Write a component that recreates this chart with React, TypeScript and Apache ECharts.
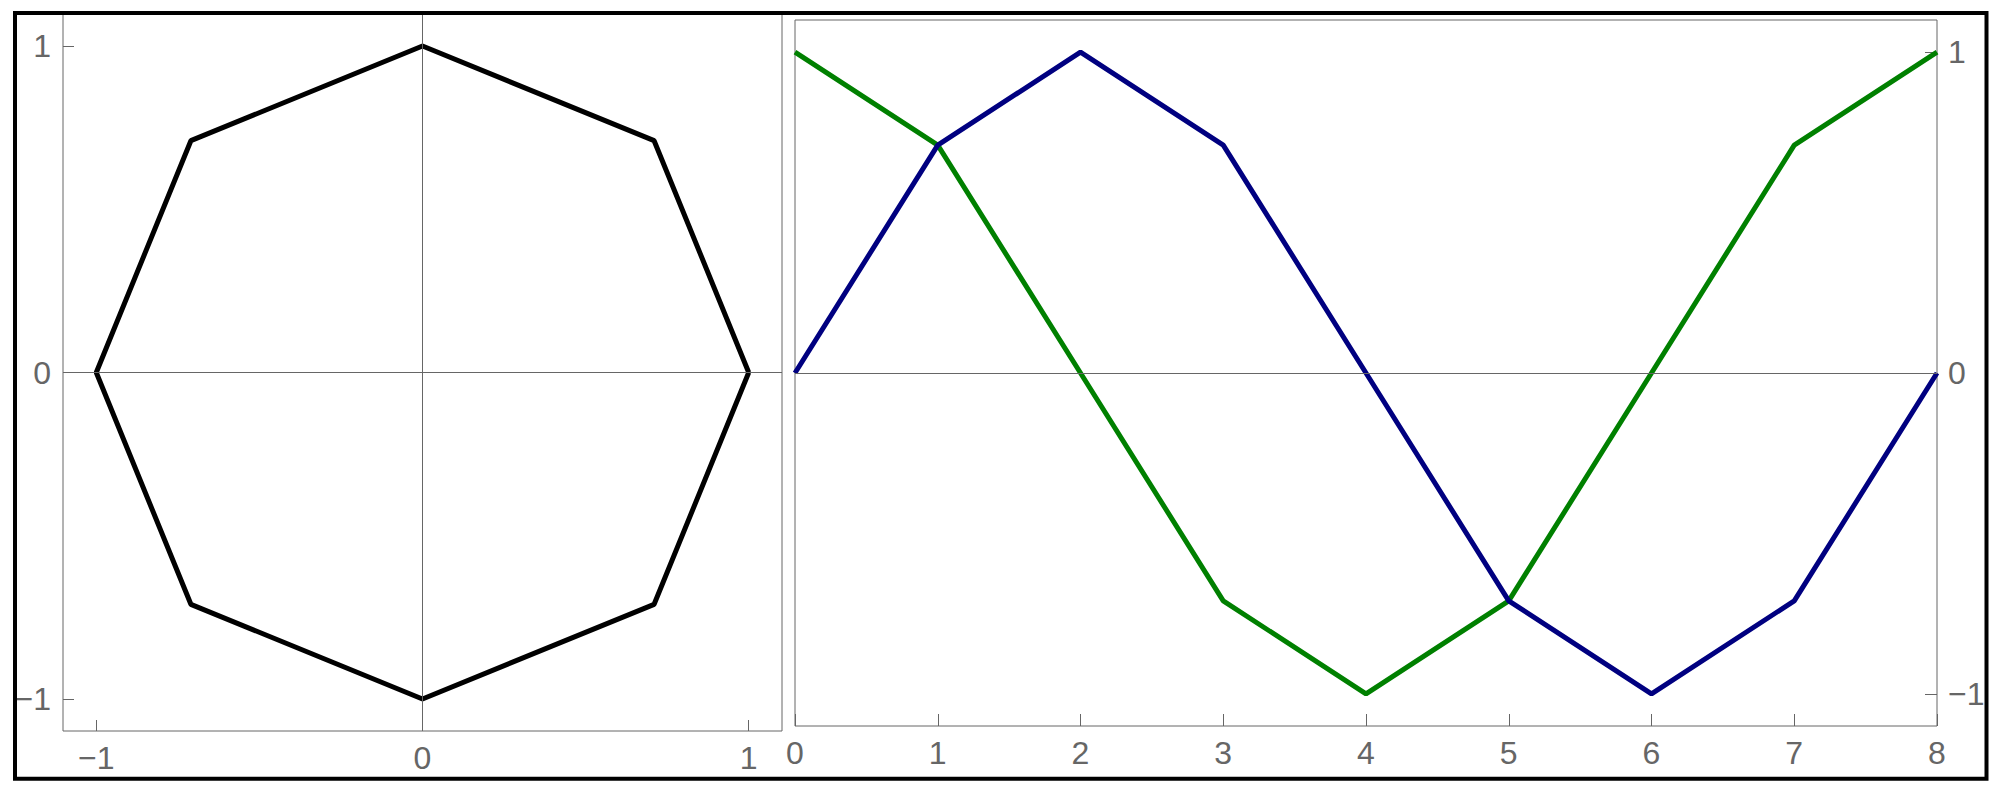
import React, { useEffect, useRef } from "react";
import * as echarts from "echarts";

// Octagon vertices (left panel)
const octX = [1, 0.71, 0, -0.71, -1, -0.71, 0, 0.71, 1];
const octY = [0, 0.71, 1, 0.71, 0, -0.71, -1, -0.71, 0];

// Right panel series
const steps = [0, 1, 2, 3, 4, 5, 6, 7, 8];
const greenVals = [1, 0.71, 0, -0.71, -1, -0.71, 0, 0.71, 1];
const blueVals = [0, 0.71, 1, 0.71, 0, -0.71, -1, -0.71, 0];

// Tick labels
const leftTicks = [-1, 0, 1];
const rightYTicks = [-1, 0, 1];

const GRAY = "#666666";
const fmt = (v: number) => (v < 0 ? "\u2212" + Math.abs(v) : String(v));

export default function App() {
  const ref = useRef<HTMLDivElement>(null);
  useEffect(() => {
    document.body.style.margin = "0";
    const chart = echarts.init(ref.current!, null, { renderer: "svg" });
    const labelStyle = {
      color: GRAY,
      fontSize: 32,
      fontFamily: "Liberation Sans, Arial, sans-serif",
      formatter: fmt,
    };
    const noLine = { show: false, onZero: false };
    chart.setOption({
      animation: false,
      backgroundColor: "#ffffff",
      grid: [
        { left: 63, top: 14, width: 719, height: 717, show: true, borderColor: GRAY, borderWidth: 1, backgroundColor: "transparent" },
        { left: 795, top: 20, width: 1142, height: 706, show: true, borderColor: GRAY, borderWidth: 1, backgroundColor: "transparent" },
      ],
      xAxis: [
        {
          gridIndex: 0, type: "value", min: -1.102, max: 1.102, position: "bottom",
          axisLine: noLine,
          splitLine: { show: false },
          axisTick: { show: true, inside: true, length: 11, lineStyle: { color: GRAY, width: 1 }, customValues: leftTicks },
          axisLabel: { ...labelStyle, margin: 11, customValues: leftTicks },
        },
        {
          gridIndex: 1, type: "value", min: 0, max: 8, interval: 1, position: "bottom",
          axisLine: noLine,
          splitLine: { show: false },
          axisTick: { show: true, inside: true, length: 12, lineStyle: { color: GRAY, width: 1 } },
          axisLabel: { ...labelStyle, margin: 11, showMinLabel: true, showMaxLabel: true },
        },
      ],
      yAxis: [
        {
          gridIndex: 0, type: "value", min: -1.098, max: 1.098, position: "left",
          axisLine: noLine,
          splitLine: { show: false },
          axisTick: { show: true, inside: true, length: 11, lineStyle: { color: GRAY, width: 1 }, customValues: leftTicks },
          axisLabel: { ...labelStyle, margin: 12, customValues: leftTicks },
        },
        {
          gridIndex: 1, type: "value", min: -1.1, max: 1.1, position: "right",
          axisLine: noLine,
          splitLine: { show: false },
          axisTick: { show: true, inside: true, length: 12, lineStyle: { color: GRAY, width: 1 }, customValues: rightYTicks },
          axisLabel: { ...labelStyle, margin: 11, customValues: rightYTicks },
        },
      ],
      series: [
        {
          type: "line", xAxisIndex: 0, yAxisIndex: 0,
          data: octX.map((x, i) => [x, octY[i]]),
          showSymbol: false, clip: false, z: 3,
          lineStyle: { color: "#000000", width: 5 },
          markLine: {
            silent: true, symbol: "none", label: { show: false },
            lineStyle: { color: GRAY, width: 1, type: "solid" },
            data: [{ xAxis: 0 }, { yAxis: 0 }],
          },
        },
        {
          type: "line", xAxisIndex: 1, yAxisIndex: 1,
          data: steps.map((x, i) => [x, greenVals[i]]),
          showSymbol: false, clip: false, z: 3,
          lineStyle: { color: "#008000", width: 5 },
          markLine: {
            silent: true, symbol: "none", label: { show: false },
            lineStyle: { color: GRAY, width: 1, type: "solid" },
            data: [{ yAxis: 0 }],
          },
        },
        {
          type: "line", xAxisIndex: 1, yAxisIndex: 1,
          data: steps.map((x, i) => [x, blueVals[i]]),
          showSymbol: false, clip: false, z: 4,
          lineStyle: { color: "#000080", width: 5 },
        },
      ],
      graphic: [
        {
          type: "rect", silent: true, z: 100,
          shape: { x: 15, y: 13, width: 1971.5, height: 765.7 },
          style: { fill: "none", stroke: "#000000", lineWidth: 4 },
        },
      ],
    });
    return () => chart.dispose();
  }, []);
  return <div ref={ref} style={{ width: 2000, height: 792, position: "absolute", left: 0, top: 0 }} />;
}
